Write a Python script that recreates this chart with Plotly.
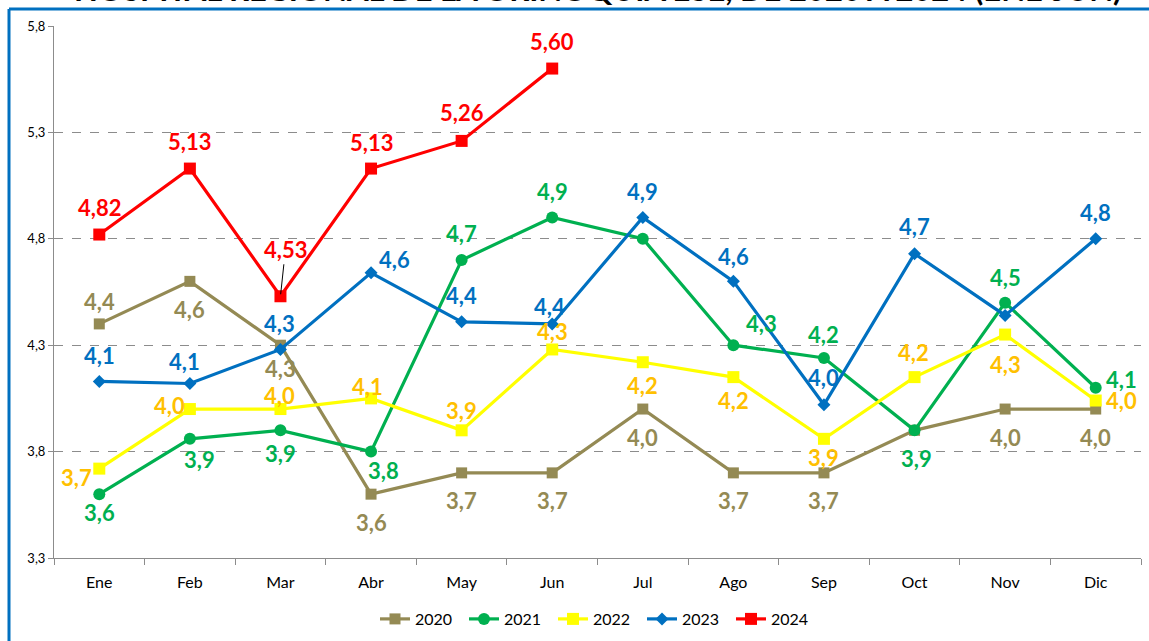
import plotly.graph_objects as go

months = ["Ene", "Feb", "Mar", "Abr", "May", "Jun", "Jul", "Ago", "Sep", "Oct", "Nov", "Dic"]

v2020 = [4.40, 4.60, 4.30, 3.60, 3.70, 3.70, 4.00, 3.70, 3.70, 3.90, 4.00, 4.00]
v2021 = [3.60, 3.86, 3.90, 3.80, 4.70, 4.90, 4.80, 4.30, 4.24, 3.90, 4.50, 4.10]
v2022 = [3.72, 4.00, 4.00, 4.05, 3.90, 4.28, 4.22, 4.15, 3.86, 4.15, 4.35, 4.04]
v2023 = [4.13, 4.12, 4.28, 4.64, 4.41, 4.40, 4.90, 4.60, 4.02, 4.73, 4.44, 4.80]
v2024 = [4.82, 5.13, 4.53, 5.13, 5.26, 5.60]

lab2020 = ["4,4", "4,6", "4,3", "3,6", "3,7", "3,7", "4,0", "3,7", "3,7", None, "4,0", "4,0"]
lab2021 = ["3,6", "3,9", "3,9", "3,8", "4,7", "4,9", None, "4,3", "4,2", "3,9", "4,5", "4,1"]
lab2022 = ["3,7", "4,0", "4,0", "4,1", "3,9", "4,3", "4,2", "4,2", "3,9", "4,2", "4,3", "4,0"]
lab2023 = ["4,1", "4,1", "4,3", "4,6", "4,4", "4,4", "4,9", "4,6", "4,0", "4,7", None, "4,8"]
lab2024 = ["4,82", "5,13", "4,53", "5,13", "5,26", "5,60"]

yticks = [3.3, 3.8, 4.3, 4.8, 5.3, 5.8]
ytick_text = ["3,3", "3,8", "4,3", "4,8", "5,3", "5,8"]

title_text = "HOSPITAL REGIONAL DE LA ORINOQUIA ESE, DE 2020 A 2024 (ENE-JUN)"

# style: label offsets in pixels (dx, dy; dy positive = downward)
off2020 = [(0, -22), (0, 28), (0, 23), (0, 28), (0, 28), (0, 28), (0, 28), (0, 28), (0, 28), (0, 0), (0, 28), (0, 28)]
off2021 = [(0, 18), (10, 21), (0, 23), (12, 19), (0, -27), (0, -26), (0, 0), (28, -22), (0, -23), (2, 28), (0, -25), (26, -8)]
off2022 = [(-23, 9), (-20, -4), (-1, -14), (-4, -12), (0, -20), (0, -18), (0, 23), (0, 23), (0, 19), (-1, -25), (0, 30), (26, 0)]
off2023 = [(0, -26), (-5, -22), (-1, -26), (23, -13), (0, -26), (-3, -17), (0, -26), (0, -25), (0, -27), (0, -27), (0, 0), (0, -26)]
off2024 = [(0, -27), (0, -27), (5, -47), (0, -26), (0, -28), (0, -27)]

FONT = "Lato"
series = [
    ("2020", v2020, lab2020, off2020, "#948A54", "#948A54", "square", 11),
    ("2021", v2021, lab2021, off2021, "#00B050", "#00B050", "circle", 12),
    ("2022", v2022, lab2022, off2022, "#FFFF00", "#FFC000", "square", 12),
    ("2023", v2023, lab2023, off2023, "#0070C0", "#0070C0", "diamond", 10),
    ("2024", v2024, lab2024, off2024, "#FF0000", "#FF0000", "square", 12),
]

fig = go.Figure()
annotations = []
for name, vals, labs, offs, col, lcol, sym, msize in series:
    fig.add_trace(go.Scatter(
        x=months[:len(vals)], y=vals, name=name, mode="lines+markers",
        line=dict(color=col, width=3.2),
        marker=dict(symbol=sym, size=msize, color=col),
        hoverinfo="skip",
    ))
    for i, (v, lab) in enumerate(zip(vals, labs)):
        if lab is None:
            continue
        dx, dy = offs[i]
        if name == "2024" and i == 2:
            annotations.append(dict(
                x=months[i], y=v, text=lab, showarrow=True, arrowhead=0,
                arrowwidth=1, arrowcolor="black", ax=dx, ay=dy, standoff=2,
                font=dict(family=FONT, size=22, color=lcol, weight="bold"),
            ))
            continue
        annotations.append(dict(
            x=months[i], y=v, text=lab, showarrow=False,
            xshift=dx, yshift=-dy, xanchor="center", yanchor="middle",
            font=dict(family=FONT, size=22, color=lcol, weight="bold"),
        ))

annotations.append(dict(
    xref="paper", yref="paper", x=0.5, y=1, yshift=16, yanchor="bottom",
    xanchor="center", text=title_text, showarrow=False,
    font=dict(family=FONT, size=31, color="black", weight="bold"),
))

L, R, T, B = 54, 8, 26, 83
W, H = 1149, 641
pw, ph = W - L - R, H - T - B
bx = (9 - L) / pw
by = 1 + (T - 9) / ph

fig.update_layout(
    width=W, height=H,
    margin=dict(l=L, r=R, t=T, b=B, autoexpand=False),
    paper_bgcolor="white", plot_bgcolor="white",
    font=dict(family=FONT, color="#404040"),
    separators=",.",
    showlegend=True,
    legend=dict(orientation="h", x=0.5, xanchor="center",
                yref="container", y=(H - 619) / H, yanchor="middle",
                entrywidth=44, entrywidthmode="pixels",
                font=dict(family=FONT, size=16, color="black"), traceorder="normal"),
    annotations=annotations,
    shapes=[
        dict(type="line", xref="paper", yref="paper", x0=bx, x1=1.05, y0=by, y1=by,
             line=dict(color="#0070C0", width=3)),
        dict(type="line", xref="paper", yref="paper", x0=bx, x1=bx, y0=by, y1=-0.3,
             line=dict(color="#0070C0", width=3)),
    ],
)
fig.update_xaxes(
    type="category", range=[-0.5, 11.5], showgrid=False, automargin=False,
    showline=True, linecolor="#8C8C8C", linewidth=1,
    ticks="outside", tickson="boundaries", ticklen=6, tickcolor="#8C8C8C",
    ticklabelstandoff=10,
    tickfont=dict(family=FONT, size=16, color="black"),
)
fig.update_yaxes(
    range=[3.3, 5.8], tickvals=yticks, ticktext=ytick_text, automargin=False,
    showgrid=True, gridcolor="#8C8C8C", griddash="dash", gridwidth=1,
    showline=True, linecolor="#8C8C8C", linewidth=1,
    ticks="outside", ticklen=5, tickcolor="#8C8C8C",
    tickfont=dict(family=FONT, size=13, color="black"),
    zeroline=False,
)

fig.write_html(
    "out.html",
    config={"displayModeBar": False},
    post_script="document.body.style.margin='0';document.body.style.padding='0';document.body.style.overflow='hidden';",
)
